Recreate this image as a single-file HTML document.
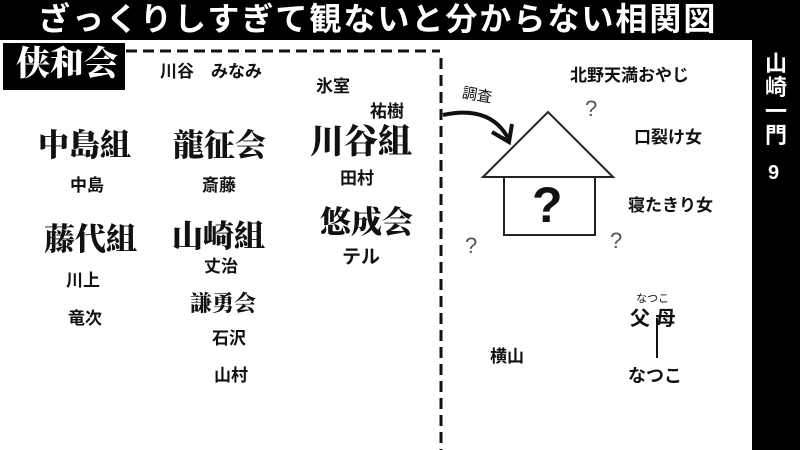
<!DOCTYPE html>
<html><head><meta charset="utf-8"><style>
body{margin:0;width:800px;height:450px;background:#fff;position:relative;overflow:hidden;font-family:"Liberation Sans","Noto Sans CJK JP",sans-serif;}
.a{position:absolute;white-space:nowrap;color:#111;font-weight:bold;line-height:1;}
.s{font-family:"Liberation Serif","Noto Serif CJK SC",serif;font-weight:900;font-size:31px;}
.n{font-size:17px;}
</style></head><body>
<div style="position:absolute;left:0;top:0;width:800px;height:40px;background:#000"></div>
<div class="a" style="left:38px;top:3px;font-size:32px;color:#fff;font-weight:bold;letter-spacing:2px">ざっくりしすぎて観ないと分からない相関図</div>
<div style="position:absolute;left:752px;top:40px;width:48px;height:410px;background:#000"></div>
<div class="a" style="left:764px;top:52px;font-size:22px;color:#fff;line-height:24px;text-align:center;width:24px">山<br>崎<br>一<br>門</div>
<div class="a" style="left:768px;top:163px;font-size:20px;color:#fff">9</div>
<div style="position:absolute;left:3px;top:43px;width:122px;height:47px;background:#000"></div>
<div class="a s" style="left:16px;top:48px;color:#fff;font-size:34px">侠和会</div>
<svg style="position:absolute;left:0;top:0" width="800" height="450">
<line x1="126" y1="51" x2="440" y2="51" stroke="#111" stroke-width="3" stroke-dasharray="11,6"/>
<line x1="441" y1="58" x2="441" y2="450" stroke="#111" stroke-width="3" stroke-dasharray="11,6"/>
<path d="M443 115 Q490 105 508 138" fill="none" stroke="#111" stroke-width="4"/>
<path d="M492 132 L509 142 L512 124" fill="none" stroke="#111" stroke-width="4"/>
<polygon points="483,177 548,112 613,177" fill="#fff" stroke="#222" stroke-width="2"/>
<rect x="504" y="177" width="91" height="58" fill="#fff" stroke="#222" stroke-width="2"/>
<line x1="657" y1="318" x2="657" y2="358" stroke="#111" stroke-width="2"/>
</svg>
<div class="a" style="left:462px;top:88px;font-size:15px;font-weight:normal;transform:rotate(10deg)">調査</div>
<div class="a" style="left:532px;top:180px;font-size:50px">?</div>
<div class="a" style="left:585px;top:98px;font-size:22px;font-weight:normal;color:#555">?</div>
<div class="a" style="left:610px;top:230px;font-size:22px;font-weight:normal;color:#555">?</div>
<div class="a" style="left:465px;top:235px;font-size:22px;font-weight:normal;color:#555">?</div>
<div class="a n" style="left:160px;top:63px">川谷　みなみ</div>
<div class="a n" style="left:316px;top:78px">氷室</div>
<div class="a n" style="left:370px;top:103px">祐樹</div>
<div class="a s" style="left:38px;top:130px">中島組</div>
<div class="a s" style="left:173px;top:130px">龍征会</div>
<div class="a s" style="left:310px;top:126px;font-size:34px">川谷組</div>
<div class="a n" style="left:70px;top:177px">中島</div>
<div class="a n" style="left:202px;top:177px">斎藤</div>
<div class="a n" style="left:340px;top:170px">田村</div>
<div class="a s" style="left:44px;top:224px">藤代組</div>
<div class="a s" style="left:172px;top:221px">山崎組</div>
<div class="a s" style="left:320px;top:207px">悠成会</div>
<div class="a n" style="left:342px;top:248px;font-size:19px">テル</div>
<div class="a n" style="left:204px;top:258px">丈治</div>
<div class="a n" style="left:66px;top:272px">川上</div>
<div class="a s" style="left:190px;top:293px;font-size:22px">謙勇会</div>
<div class="a n" style="left:68px;top:310px">竜次</div>
<div class="a n" style="left:212px;top:330px">石沢</div>
<div class="a n" style="left:214px;top:367px">山村</div>
<div class="a n" style="left:570px;top:67px">北野天満おやじ</div>
<div class="a n" style="left:634px;top:129px">口裂け女</div>
<div class="a n" style="left:628px;top:197px">寝たきり女</div>
<div class="a" style="left:636px;top:294px;font-size:11px;font-weight:normal">なつこ</div>
<div class="a" style="left:630px;top:309px;font-size:20px">父 母</div>
<div class="a n" style="left:490px;top:348px">横山</div>
<div class="a n" style="left:628px;top:367px;font-size:18px">なつこ</div>
</body></html>
